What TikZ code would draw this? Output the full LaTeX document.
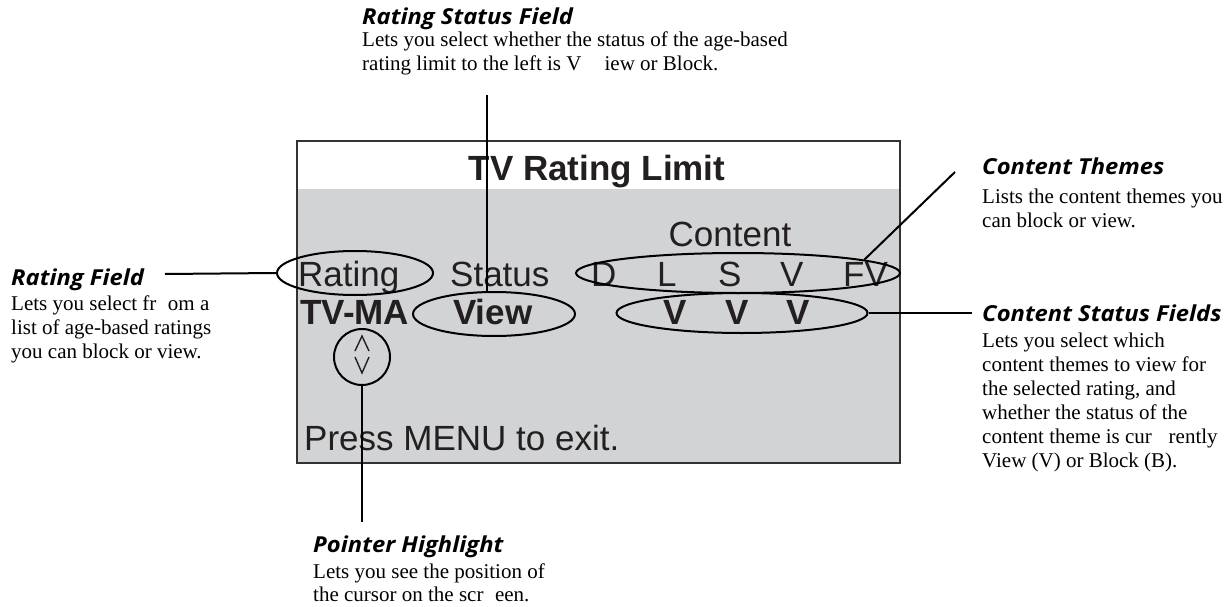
\documentclass[tikz,border=0pt]{standalone}
\usepackage{fontspec}
\usetikzlibrary{shapes.geometric}
\newfontfamily\scrfont{Liberation Sans}
\newfontfamily\hdfont{Open Sans}
\newfontfamily\bodyfont{Liberation Serif}
\newcommand{\widehd}[1]{\scalebox{1.08}[1]{#1}}
\definecolor{scrgray}{HTML}{D1D3D4}
\definecolor{scrink}{HTML}{231F20}
\definecolor{frame}{HTML}{333333}
\begin{document}
\begin{tikzpicture}[x=1pt,y=-1pt,
  lbl/.style={inner sep=0pt, anchor=base west},
  hdtext/.style={lbl, font=\hdfont\bfseries\itshape\fontsize{22}{22}\selectfont},
  bodytext/.style={lbl, font=\bodyfont\fontsize{21}{24}\selectfont},
  scrtext/.style={inner sep=0pt, anchor=base west, text=scrink, font=\scrfont\fontsize{35}{35}\selectfont},
  scrbold/.style={scrtext, font=\scrfont\bfseries\fontsize{35}{35}\selectfont},
  ring/.style={draw=black, line width=2pt, ellipse, inner sep=0pt},
  leader/.style={draw=black, line width=2pt}]
\useasboundingbox[fill=white] (0,0) rectangle (1231,607);
% screen
\fill[scrgray] (297,141) rectangle (900,463);
\fill[white] (297,141) rectangle (900,189);
\draw[frame, line width=2pt] (297,141) rectangle (900,463);
% screen texts
\node[scrbold, anchor=base] (title) at (597,180) {TV Rating Limit};
\node[scrtext, anchor=base] (content) at (730,246) {Content};
\node[scrtext] (rating) at (298,286) {Rating};
\node[scrtext] (status) at (450,286) {Status};
\node[scrtext] (cD) at (591,286) {D};
\node[scrtext] (cL) at (657,286) {L};
\node[scrtext] (cS) at (718,286) {S};
\node[scrtext] (cV) at (780,286) {V};
\node[scrtext] (cFV) at (843,286) {FV};
\node[scrbold] (tvma) at (300,324) {TV-MA};
\node[scrbold] (view) at (453,324) {View};
\node[scrbold, anchor=base] (v1) at (675,324) {V};
\node[scrbold, anchor=base] (v2) at (737,324) {V};
\node[scrbold, anchor=base] (v3) at (798,324) {V};
\node[scrtext] (press) at (304,450) {Press MENU to exit.};
% cursor glyph
\draw[scrink, line width=1.4pt, line join=miter] (355,351) -- (362,336) -- (369,351);
\draw[scrink, line width=1.4pt, line join=miter] (355,357) -- (362,373) -- (369,357);
% ellipses
\node[ring, minimum width=156pt, minimum height=44pt] (eRating) at (355,273) {};
\node[ring, minimum width=324pt, minimum height=40pt] (eTheme) at (738,273) {};
\node[ring, minimum width=162pt, minimum height=44pt] (eView) at (494,314) {};
\node[ring, minimum width=251pt, minimum height=40pt] (eVVV) at (742,313) {};
\node[ring, circle, minimum size=56pt] (eCur) at (362,357) {};
% labels
\node[hdtext] (rsfH) at (362,25) {\widehd{Rating Status Field}};
\node[bodytext] (rsf1) at (362,47) {Lets you select whether the status of the age-based};
\node[bodytext] (rsf2) at (362,71) {rating limit to the left is V\hspace{1.1em}iew or Block.};
\node[hdtext] (rfH) at (11,285) {\widehd{Rating Field}};
\node[bodytext] (rf1) at (11,310) {Lets you select fr\hspace{0.55em}om a};
\node[bodytext] (rf2) at (11,334) {list of age-based ratings};
\node[bodytext] (rf3) at (11,358) {you can block or view.};
\node[hdtext] (ctH) at (982,175) {\widehd{Content Themes}};
\node[bodytext] (ct1) at (982,203) {Lists the content themes you};
\node[bodytext] (ct2) at (982,227) {can block or view.};
\node[hdtext] (csH) at (982,321) {\widehd{Content Status Fields}};
\node[bodytext] (cs1) at (982,347) {Lets you select which};
\node[bodytext] (cs2) at (982,371) {content themes to view for};
\node[bodytext] (cs3) at (982,395) {the selected rating, and};
\node[bodytext] (cs4) at (982,419) {whether the status of the};
\node[bodytext] (cs5) at (982,443) {content theme is cur\hspace{0.8em}rently};
\node[bodytext] (cs6) at (982,467) {View (V) or Block (B).};
\node[hdtext] (phH) at (313,552) {\widehd{Pointer Highlight}};
\node[bodytext] (ph1) at (313,578) {Lets you see the position of};
\node[bodytext] (ph2) at (313,601) {the cursor on the scr\hspace{0.55em}een.};
% leaders
\coordinate (rfEnd) at (165,274);
\coordinate (rsEnd) at (487,95);
\coordinate (ctEnd) at (955,172);
\coordinate (csEnd) at (972,313);
\coordinate (phEnd) at (362,522);
\draw[leader] (rfEnd) -- (eRating.west);
\draw[leader] (rsEnd) -- (rsEnd |- eView.north);
\draw[leader] (eTheme.6) -- (ctEnd);
\draw[leader] (eVVV.east) -- (csEnd);
\draw[leader] (eCur.south) -- (phEnd);
\end{tikzpicture}
\end{document}
